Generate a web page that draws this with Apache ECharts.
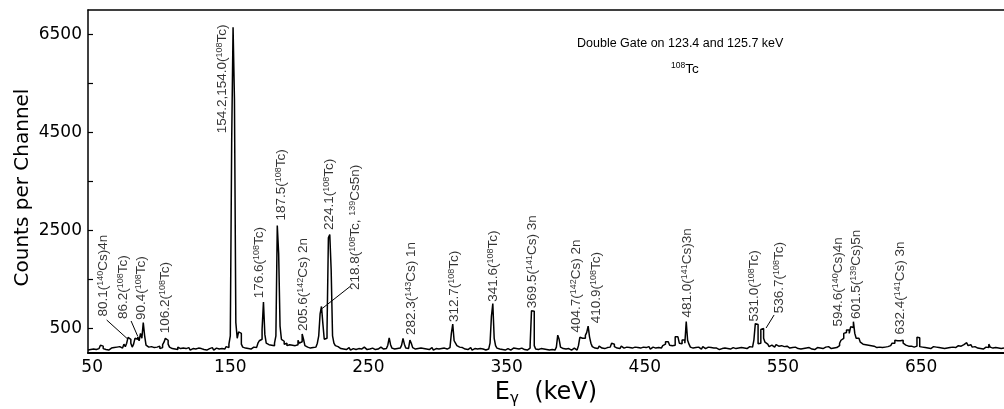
<!DOCTYPE html>
<html><head><meta charset="utf-8">
<script src="https://cdn.jsdelivr.net/npm/echarts@6/dist/echarts.min.js"></script>
<style>html,body{margin:0;padding:0;background:#fff}#c{width:1004px;height:409px}</style>
</head><body><div id="c"></div>
<script>
// 1-keV channels; first channel lower edge at 47 keV
const E0 = 47;
const counts047 = [60,70,50,80,90,70,60,90,120,160,
 140,90,70,80,60,90,100,80,110,90,
 120,150,130,90,100,140,180,130,200,320,
 280,200,120,180,300,280,330,250,400,300,
 620,350,160,120,90,130,170,110,80,120,
 100,140,90];
const counts100 = [110,170,220,300,260,180,120,90,130,80,
 100,70,120,90,60,100,140,90,70,110,
 80,60,90,130,80,70,100,60,90,120,
 70,80,60,100,90,70,110,80,60,100,
 130,80,70,90,110,80,100,130,110,180];
const counts150 = [350,4330,6650,5180,620,300,430,400,180,120,
 100,130,90,110,80,100,120,90,110,150,
 200,250,280,480,1040,380,200,170,140,160,
 120,150,200,350,2600,2030,550,280,240,180,
 200,150,170,130,160,120,150,130,170,260];
const counts200 = [200,230,390,280,150,120,140,100,130,110,
 150,120,160,200,350,800,950,600,280,300,
 450,2350,2420,1700,350,200,150,130,110,90,
 120,80,100,70,90,110,80,60,90,100,
 70,110,90,60,80,100,120,80,70,90];
const counts250 = [80,60,100,90,70,110,80,90,120,100,
 80,110,90,130,160,310,170,100,80,110,
 90,70,100,130,160,300,180,100,90,130,
 265,200,110,80,100,90,70,100,80,90,
 60,80,100,70,90,110,80,60,90,100];
const counts300 = [80,110,90,70,100,120,80,90,110,150,
 400,590,250,200,150,120,100,110,90,80,
 100,70,90,110,80,60,90,100,80,70,
 90,110,80,70,60,90,80,100,200,750,
 1010,300,150,100,80,90,70,100,60,80];
const counts350 = [90,70,60,80,100,70,90,60,80,70,
 100,80,70,90,60,80,100,150,860,850,
 150,80,70,60,90,70,80,60,70,90,
 60,80,70,90,60,80,120,365,280,120,
 90,70,80,60,90,70,60,80,100,70];
const counts400 = [60,90,150,320,300,280,300,360,420,550,
 330,200,130,100,130,90,110,140,100,120,
 90,130,110,80,120,150,200,180,130,100,
 120,90,110,140,100,80,120,90,110,130,
 100,80,120,90,110,130,100,80,120,140];
const counts450 = [110,90,130,100,80,120,140,100,90,110,
 130,100,120,150,180,230,230,220,160,150,
 170,160,330,330,320,200,190,265,265,200,
 640,260,180,120,100,130,110,90,120,100,
 80,110,130,90,100,120,80,110,90,100];
const counts500 = [80,100,90,70,110,90,80,100,70,90,
 100,80,90,110,70,90,80,100,90,110,
 80,100,120,90,110,130,100,120,160,270,
 600,580,190,200,480,500,300,220,180,150,
 130,160,140,120,150,170,140,130,150,120];
const counts550 = [130,110,140,120,100,130,110,90,120,100,
 90,110,80,100,90,70,100,80,110,90,
 80,100,70,90,110,80,100,120,90,110,
 120,100,130,110,90,120,100,80,110,130,
 150,200,260,300,400,420,470,470,400,535];
const counts600 = [520,640,400,300,300,260,220,180,150,170,
 140,160,130,150,120,140,130,110,140,120,
 130,110,140,120,100,130,150,150,180,200,
 200,260,250,260,250,270,260,200,160,150,
 140,130,140,130,120,150,140,320,310,130];
const counts650 = [120,140,110,130,100,120,90,110,130,100,
 120,90,110,80,100,120,90,110,100,130,
 110,90,120,140,110,130,150,120,140,160,
 170,200,210,180,150,170,140,120,130,110,
 100,120,90,110,80,100,120,90,110,180];
const counts700 = [120,100,90,110,130,100,120,90,110,100,100];

const xTickLabels = [50,150,250,350,450,550,650];
const yTickLabels = [500,2500,4500,6500];
const yTickMarks = [500,1500,2500,3500,4500,5500,6500];

const peakNames = [
 '80.1({s|140}Cs)4n','86.2({s|108}Tc)','90.4({s|108}Tc)','106.2({s|108}Tc)',
 '154.2,154.0({s|108}Tc)','176.6({s|108}Tc)','187.5({s|108}Tc)','205.6({s|142}Cs) 2n',
 '224.1({s|108}Tc)','218.8({s|108}Tc, {s|139}Cs5n)','282.3({s|143}Cs) 1n','312.7({s|108}Tc)',
 '341.6({s|108}Tc)','369.5({s|141}Cs) 3n','404.7({s|142}Cs) 2n','410.9({s|108}Tc)',
 '481.0({s|141}Cs)3n','531.0({s|108}Tc)','536.7({s|108}Tc)','594.6({s|140}Cs)4n',
 '601.5({s|139}Cs)5n','632.4({s|141}Cs) 3n'];
const peakLabelE = [58.0,72.4,85.8,103.2,144.1,171.2,186.8,202.7,221.5,240.3,280.9,312.0,
 340.4,368.7,400.7,414.8,480.6,529.1,547.2,589.9,603.4,635.0];
const peakLabelC = [745,694,674,402,4484,1116,2704,449,2510,1286,367,633,
 1047,912,418,606,725,643,810,541,694,378];
const leaderFrom = [[60.5,674],[78.2,653],[216.5,908],[537.8,510]];
const leaderTo   = [[75.7,286],[82.9,347],[236.7,1357],[543.6,776]];

const counts = [].concat(counts047,counts100,counts150,counts200,counts250,counts300,
 counts350,counts400,counts450,counts500,counts550,counts600,counts650,counts700);
const spectrum = counts.map((v,i)=>[E0+i, v]);

const chart = echarts.init(document.getElementById('c'), null, {renderer:'canvas'});
const axisFont = 'DejaVu Sans';
chart.setOption({
  animation:false,
  backgroundColor:'#fff',
  title:[
    {text:'Double Gate on 123.4 and 125.7 keV', left:577, top:37, padding:0,
     textStyle:{fontFamily:'Liberation Sans', fontSize:12.5, fontWeight:'normal', color:'#000'}},
    {text:'{s|108}{n|Tc}', left:671, top:61, padding:0,
     textStyle:{fontWeight:'normal',
       rich:{s:{fontFamily:'Liberation Sans',fontSize:8.5,fontWeight:'normal',verticalAlign:'top',lineHeight:9,color:'#000'},
             n:{fontFamily:'Liberation Sans',fontSize:13.5,fontWeight:'normal',lineHeight:16,color:'#000'}}}}
  ],
  grid:{left:88, right:0, top:10, bottom:56, containLabel:false, outerBoundsMode:'none'},
  xAxis:[{
    type:'value', min:47, max:710,
    axisLine:{show:true, onZero:false, lineStyle:{color:'#000', width:2}},
    axisTick:{show:false},
    splitLine:{show:false},
    axisLabel:{customValues:xTickLabels, formatter:(v)=>String(v), margin:6, fontFamily:axisFont, fontSize:17, color:'#000'},
    name:'{e|E}{g|γ}{e|  (keV)}', nameLocation:'middle', nameGap:26,
    nameTextStyle:{rich:{e:{fontFamily:axisFont,fontSize:24,lineHeight:28,color:'#000'},
                         g:{fontFamily:axisFont,fontSize:15,lineHeight:12,verticalAlign:'bottom',color:'#000'}}}
  },{
    type:'value', min:47, max:710, position:'top',
    axisLine:{show:true, onZero:false, lineStyle:{color:'#000', width:1.5}},
    axisTick:{show:false}, axisLabel:{show:false}, splitLine:{show:false}
  }],
  yAxis:{
    type:'value', min:0, max:7000,
    axisLine:{show:true, onZero:false, lineStyle:{color:'#000', width:1.5}},
    axisTick:{show:true, inside:true, length:5, customValues:yTickMarks, lineStyle:{color:'#000', width:1.2}},
    splitLine:{show:false},
    axisLabel:{customValues:yTickLabels, formatter:(v)=>String(v), margin:6, fontFamily:axisFont, fontSize:17, color:'#000'},
    name:'Counts per Channel', nameLocation:'middle', nameGap:55, nameMoveOverlap:false,
    nameTextStyle:{fontFamily:axisFont, fontSize:20, color:'#000', padding:[0,12,0,0]}
  },
  series:[{
    type:'line', xAxisIndex:0, data:spectrum, step:'end', symbol:'none', silent:true,
    lineStyle:{color:'#000', width:1.5},
    markLine:{silent:true, symbol:'none', animation:false, label:{show:false},
      lineStyle:{color:'#000', width:1, type:'solid'},
      data: leaderFrom.map((p,i)=>[{coord:p},{coord:leaderTo[i]}])}
  },{
    type:'scatter', xAxisIndex:0, silent:true, symbolSize:0,
    data: peakLabelE.map((e,i)=>[e, peakLabelC[i]]),
    label:{show:true, position:'inside', rotate:90, align:'left', verticalAlign:'middle',
      formatter:(p)=>peakNames[p.dataIndex],
      fontFamily:'Liberation Sans', fontSize:13.5, lineHeight:15, color:'#000',
      rich:{s:{fontFamily:'Liberation Sans', fontSize:9, lineHeight:9, verticalAlign:'top', color:'#000'}}}
  }]
});
</script></body></html>
